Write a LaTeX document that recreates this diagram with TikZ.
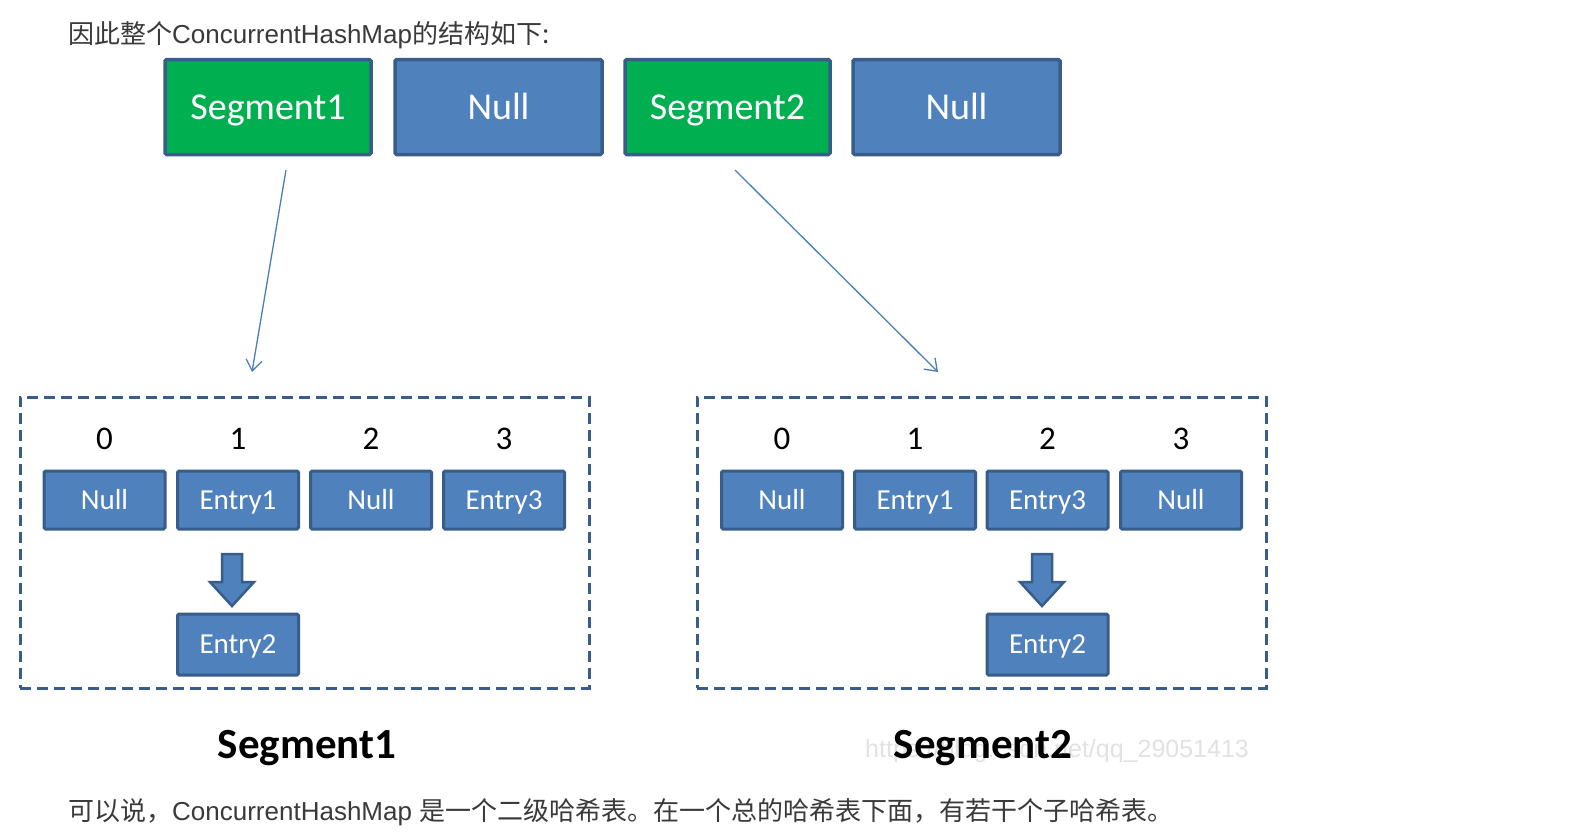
\documentclass[tikz,border=0pt]{standalone}
\usepackage{fontspec}
\setmainfont{Carlito}
\newfontfamily\cjk{Noto Sans CJK SC}
\newfontfamily\arialf{Liberation Sans}
\usetikzlibrary{arrows.meta}
\definecolor{boxblue}{HTML}{4F81BD}
\definecolor{boxedge}{HTML}{385D8A}
\definecolor{segreen}{HTML}{00B050}
\definecolor{thinblue}{HTML}{4A7EBB}
\definecolor{txtgray}{HTML}{3A3A3A}
\definecolor{wmgray}{HTML}{E2E2E2}
\tikzset{
  topbox/.style={draw=boxedge, line width=3.5pt, rounded corners=1.5pt, inner sep=0pt,
    minimum height=95pt, text=white, font=\fontsize{38}{40}\selectfont,
    text height=24.5pt, text depth=0pt},
  bluebox/.style={topbox, fill=boxblue},
  greenbox/.style={topbox, fill=segreen},
  smallbox/.style={draw=boxedge, fill=boxblue, line width=3pt, rounded corners=1.5pt, inner sep=0pt,
    minimum width=121pt, minimum height=58pt, text=white, font=\fontsize{29}{31}\selectfont,
    text height=18.7pt, text depth=0pt},
  idx/.style={font=\fontsize{33}{35}\selectfont, text=black, inner sep=0pt},
  dashbox/.style={draw=boxedge, line width=3pt, dash pattern=on 11pt off 6pt, inner sep=0pt},
  thinarrow/.style={draw=thinblue, line width=1.3pt, -{Straight Barb[length=11pt,width=16pt,line width=1.3pt]}},
  blockarrow/.style={draw=boxedge, fill=boxblue, line width=2.5pt, line join=miter},
  seglabel/.style={font=\bfseries\fontsize{43}{45}\selectfont, text=black, inner sep=0pt,
    text height=27.7pt, text depth=0pt},
  downarrow/.pic={\path[blockarrow] (-10,0) -- (10,0) -- (10,28) -- (22,28) -- (0,52) -- (-22,28) -- (-10,28) -- cycle;}
}
\begin{document}
\begin{tikzpicture}[x=1pt,y=-1pt]
\useasboundingbox[fill=white] (0,0) rectangle (1569,838);

% header text
\node[anchor=west, inner sep=0pt, text=txtgray, font=\fontsize{26}{28}\selectfont] (hdr) at (68,35)
  {\cjk 因此整个\arialf ConcurrentHashMap\cjk 的结构如下:};

% top row
\node[greenbox, minimum width=206pt] (seg1) at (268,107) {Segment1};
\node[bluebox, minimum width=207pt] (null1) at (498.5,107) {Null};
\node[greenbox, minimum width=205pt] (seg2) at (727.5,107) {Segment2};
\node[bluebox, minimum width=207pt] (null2) at (956.5,107) {Null};

% dashed containers
\node[dashbox, minimum width=569pt, minimum height=291pt] (cont1) at (304.5,542.5) {};
\node[dashbox, minimum width=569pt, minimum height=291pt] (cont2) at (981.5,542.5) {};

% thin arrows
\coordinate (a1s) at (286,170);
\coordinate (a1e) at (252,372);
\coordinate (a2s) at (735,170);
\coordinate (a2e) at (938,372);
\draw[thinarrow] (a1s) -- (a1e);
\draw[thinarrow] (a2s) -- (a2e);

% left segment
\node[idx] (l0) at (104.5,439) {0};
\node[idx] (l1) at (238,439) {1};
\node[idx] (l2) at (371,439) {2};
\node[idx] (l3) at (504,439) {3};
\node[smallbox] (lb0) at (104.5,500) {Null};
\node[smallbox] (lb1) at (238,500) {Entry1};
\node[smallbox] (lb2) at (371,500) {Null};
\node[smallbox] (lb3) at (504,500) {Entry3};
\node[smallbox, minimum height=61pt] (le2) at (238,644.5) {Entry2};
\pic at (232,554) {downarrow};

% right segment
\node[idx] (r0) at (782,439) {0};
\node[idx] (r1) at (915,439) {1};
\node[idx] (r2) at (1047.5,439) {2};
\node[idx] (r3) at (1181,439) {3};
\node[smallbox] (rb0) at (782,500) {Null};
\node[smallbox] (rb1) at (915,500) {Entry1};
\node[smallbox] (rb2) at (1047.5,500) {Entry3};
\node[smallbox] (rb3) at (1181,500) {Null};
\node[smallbox, minimum height=61pt] (re2) at (1047.5,644.5) {Entry2};
\pic at (1042,554) {downarrow};

% watermark
\node[anchor=west, inner sep=0pt, text=wmgray, font=\arialf\fontsize{25}{27}\selectfont] (wm) at (865,751) {https://blog.csdn.net/qq\_29051413};

% labels
\node[seglabel] (s1lab) at (307,745) {Segment1};
\node[seglabel] (s2lab) at (983,745) {Segment2};

% footer text
\node[anchor=west, inner sep=0pt, text=txtgray, font=\fontsize{26}{28}\selectfont] (ftr) at (68,812)
  {\cjk 可以说，\arialf ConcurrentHashMap \cjk 是一个二级哈希表。在一个总的哈希表下面，有若干个子哈希表。};
\end{tikzpicture}
\end{document}
